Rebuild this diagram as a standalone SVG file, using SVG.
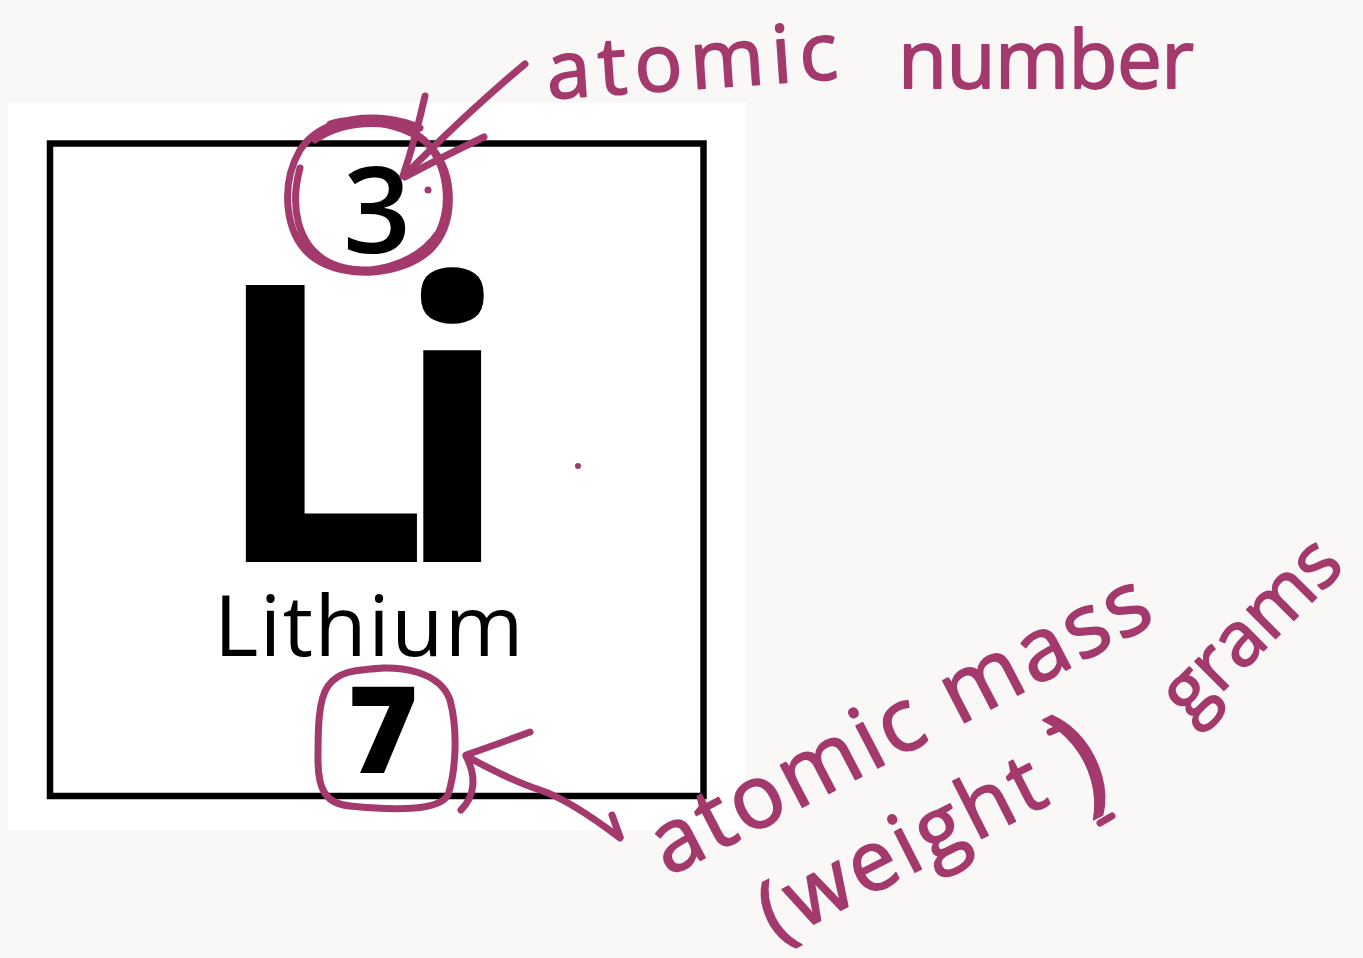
<svg xmlns="http://www.w3.org/2000/svg" width="1363" height="958" viewBox="0 0 1363 958">
<style>
.pen{fill:none;stroke:#a3396c;stroke-width:7;stroke-linecap:round;stroke-linejoin:round}
.hand{font-family:"Open Sans","Noto Sans",sans-serif;font-weight:400;fill:#a3396c;stroke:#a3396c;stroke-width:1.8;stroke-linejoin:round}
.blk{font-family:"Open Sans","Noto Sans","Liberation Sans",sans-serif;fill:#000}
</style>
<rect x="0" y="0" width="1363" height="958" fill="#f9f8f6"/>
<rect x="8" y="103" width="738" height="727" fill="#ffffff"/>
<g id="element-box">
<rect x="50" y="143.5" width="653.5" height="652.5" fill="#ffffff" stroke="#000" stroke-width="6.5"/>
<text class="blk" x="377" y="253" font-size="119" font-weight="600" text-anchor="middle">3</text>
<text class="blk" font-size="388" font-weight="700" y="562"><tspan x="211">L</tspan><tspan x="393">i</tspan></text>
<text class="blk" x="214" y="656" font-size="85" font-weight="400" letter-spacing="1.5">Lithium</text>
<text class="blk" x="383" y="773" font-size="120" font-weight="800" text-anchor="middle">7</text>
</g>
<g id="atomic-number-label">
<path class="pen" d="M420 128 C380 110 322 116 300 150 C280 185 284 236 314 258 C345 280 402 276 430 250 C456 224 455 176 432 148 C412 126 360 114 330 124"/>
<path class="pen" d="M300 168 C290 205 296 246 330 263 C366 279 416 266 439 232 C452 204 448 164 424 140 C400 118 346 118 315 140"/>
<circle cx="428" cy="190" r="3.5" fill="#a3396c"/>
<text class="hand" font-size="80" transform="translate(548 99) rotate(-4)" textLength="292" lengthAdjust="spacing">atomic</text>
<text class="hand" font-size="80" x="898" y="88" textLength="296" lengthAdjust="spacing">number</text>
</g>
<g id="atomic-mass-label">
<path class="pen" d="M362 670 C402 664 440 672 450 700 C458 730 456 770 448 795 C438 812 390 810 350 806 C326 804 318 790 318 760 C318 730 318 700 328 686 C338 672 352 670 384 668"/>
<text class="hand" font-size="88" transform="translate(668 877) rotate(-27.5)" textLength="552" lengthAdjust="spacing">atomic mass</text>
<text class="hand" font-size="84" letter-spacing="4" transform="translate(776 943) rotate(-27)">(weight<tspan font-size="128" dx="22" dy="14">)</tspan></text>
<path class="pen" d="M1050 732 L1064 726 M1100 823 L1112 816" stroke-width="4"/>
<text class="hand" font-size="76" transform="translate(1190 724) rotate(-45)">grams</text>
</g>
<g id="connectors">
<path class="pen" d="M525 64 Q470 110 405 175"/>
<path class="pen" d="M425 96 Q415 140 403 176"/>
<path class="pen" d="M484 137 Q440 158 405 177"/>
<path class="pen" d="M530 732 Q495 745 466 755"/>
<path class="pen" d="M466 756 C476 775 476 795 461 810"/>
<path class="pen" d="M470 758 Q510 780 540 790 Q570 800 620 838"/>
<path class="pen" d="M612 815 L620 837"/>
</g>
<circle cx="578" cy="466" r="3" fill="#a3396c"/>
</svg>
